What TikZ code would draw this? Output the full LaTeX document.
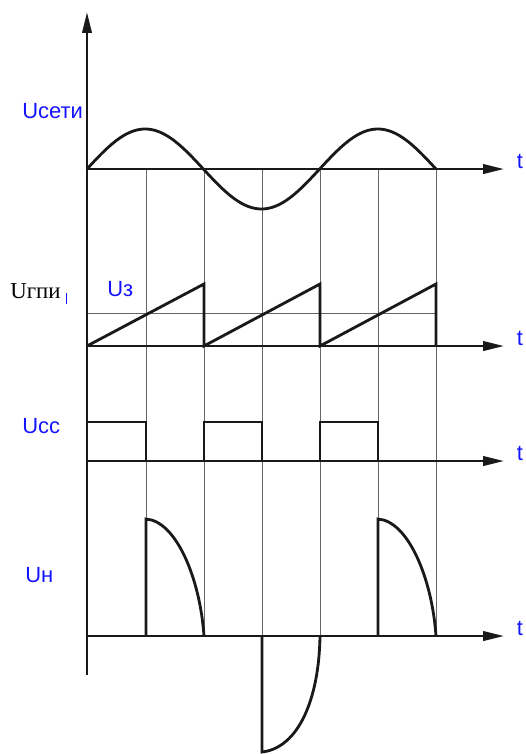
\documentclass[tikz,border=0pt]{standalone}
\usepackage{fontspec}
\setmainfont{Liberation Serif}
\newfontfamily\sansru{Liberation Sans}
\usetikzlibrary{arrows.meta}
\definecolor{labelBlue}{RGB}{20,20,255}

\begin{document}
\begin{tikzpicture}[x=0.02cm, y=-0.02cm,
    axis/.style={-{Triangle[length=0.42cm, width=0.19cm]}, line width=1.4pt, black!90},
    sig/.style={line width=1.6pt, black!90, line join=miter},
    mark line/.style={line width=0.5pt, black!60},
    lbl/.style={inner sep=0pt, anchor=base west, text=labelBlue, font=\sansru\fontsize{12.5}{14}\selectfont},
    tlbl/.style={inner sep=0pt, anchor=base, text=labelBlue, font=\sansru\fontsize{12.5}{14}\selectfont}]
  \useasboundingbox (0,0) rectangle (525,754);
  % time marks
  \foreach \x in {146,204,262,320,378,436}{\draw[mark line] (\x,169) -- (\x,636);}
  \draw[mark line] (87,313) -- (436,313);
  % axes
  \coordinate (o) at (87,675);
  \coordinate (top) at (87,12);
  \draw[axis] (o) -- (top);
  \foreach \n/\y in {1/169,2/346,3/461,4/636}{
    \coordinate (a\n) at (87,\y);
    \coordinate (b\n) at (504,\y);
    \draw[axis] (a\n) -- (b\n);
    \node[tlbl] (t\n) at (520,\y-1) {t};
  }
  % mains voltage
  \draw[sig] plot[domain=0:349, samples=120, smooth] ({87+\x},{169-40*sin(1.5473*\x)});
  % ramp
  \draw[sig] (a2) -- (204,284) -- (204,346) -- (320,284) -- (320,346) -- (436,284) -- (436,346);
  % pulses
  \draw[sig] (87,422) -- (146,422) -- (146,461) -- (204,461) -- (204,422) -- (262,422) -- (262,461)
    -- (320,461) -- (320,422) -- (378,422) -- (378,461);
  % load
  \draw[sig] (146,636) -- (146,519) .. controls (176,521) and (200,578) .. (204,636);
  \draw[sig] (378,636) -- (378,519) .. controls (408,521) and (432,578) .. (436,636);
  \draw[sig] (262,636) -- (262,752) .. controls (298,748) and (319,700) .. (320,636);
  % labels
  \node[lbl] (useti) at (22,118) {Uсети};
  \node[lbl] (uz) at (107,296) {Uз};
  \node[lbl, text=black, font=\fontsize{13}{15}\selectfont] (ugpi) at (10,298) {Uгпи};
  \coordinate (c1) at (66,293);
  \coordinate (c2) at (66,304);
  \draw[labelBlue, line width=0.4pt] (c1) -- (c2);
  \node[lbl] (ucc) at (22,433) {Ucc};
  \node[lbl] (un) at (25,582) {Uн};
\end{tikzpicture}
\end{document}
